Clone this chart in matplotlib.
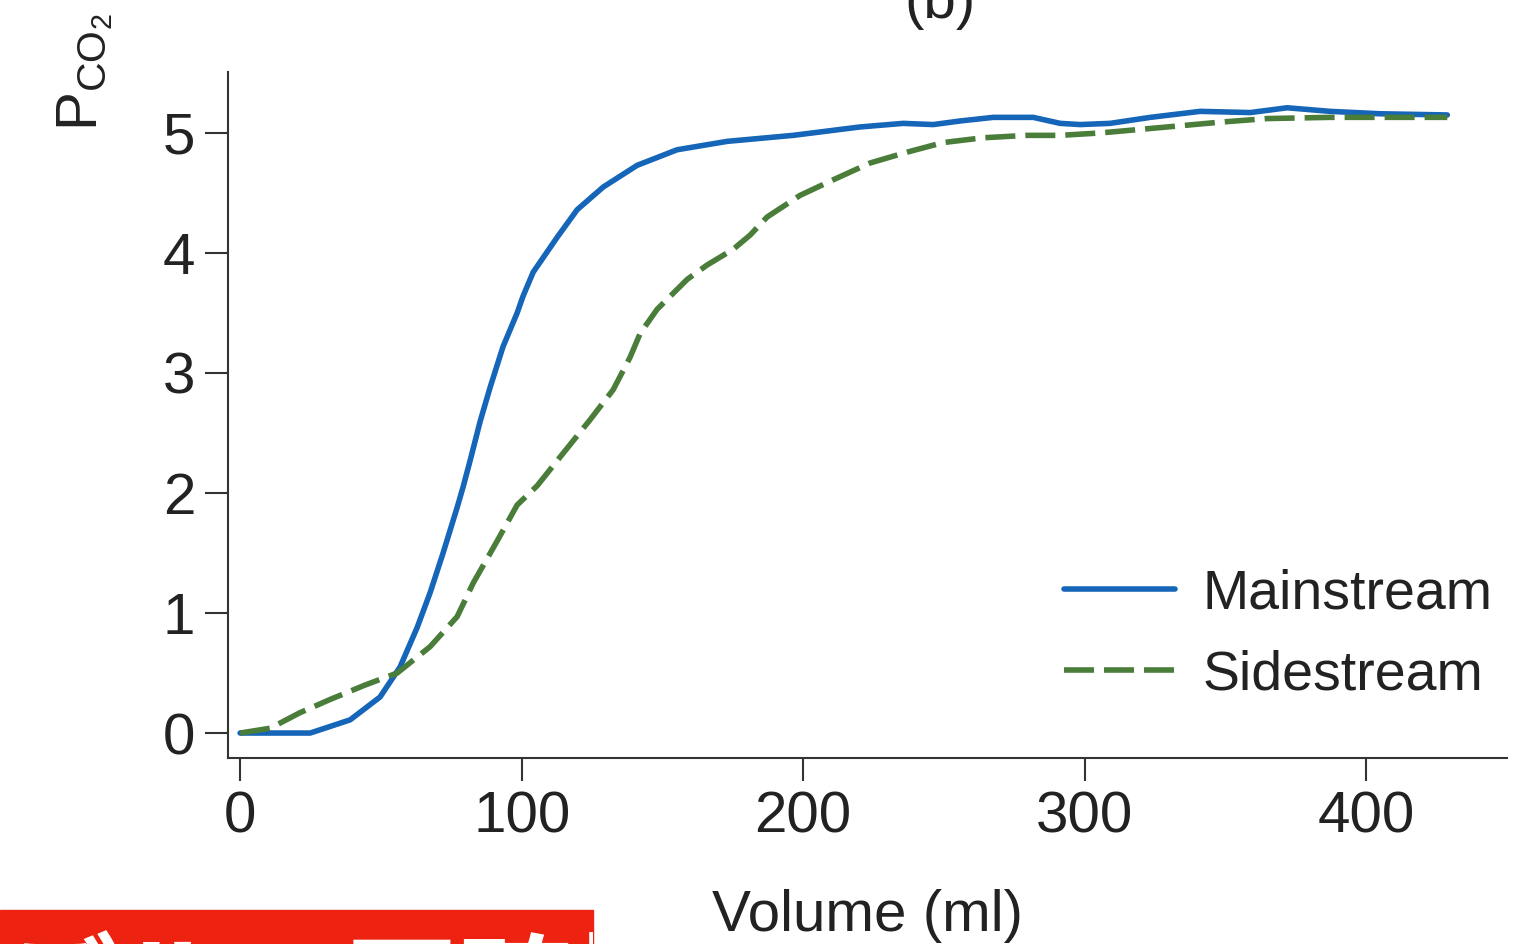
import matplotlib.pyplot as plt
from matplotlib.patches import Rectangle

plt.rcParams['font.family'] = ['Liberation Sans', 'DejaVu Sans']
plt.rcParams['mathtext.fontset'] = 'custom'
plt.rcParams['mathtext.rm'] = 'Liberation Sans'
plt.rcParams['mathtext.it'] = 'Liberation Sans'

# values (volume in ml, PCO2 in kPa)
main_vol = [0, 24.9, 39.1, 49.7, 56.8, 62.9, 67.5, 72.1, 77.1, 79.2, 81.7, 85.3, 88.8,
            93.4, 98.4, 100.5, 104.1, 112.6, 119.7, 129.0, 141.0, 155.2, 173.0, 196.4,
            220.2, 235.5, 246.2, 255.8, 267.5, 281.7, 291.3, 298.4, 309, 323.3, 341,
            358.8, 371.9, 387.2, 405, 428.8]
main_pco2 = [0, 0, 0.11, 0.30, 0.55, 0.88, 1.17, 1.50, 1.88, 2.05, 2.27, 2.6, 2.88,
             3.22, 3.5, 3.64, 3.84, 4.13, 4.36, 4.55, 4.73, 4.86, 4.93, 4.98,
             5.05, 5.08, 5.07, 5.1, 5.13, 5.13, 5.08, 5.07, 5.08, 5.13, 5.18,
             5.17, 5.21, 5.18, 5.16, 5.15]

side_vol = [0, 10.7, 21.3, 32, 44.4, 55.8, 67.5, 77.1, 82.8, 91.3, 98.4, 105.5, 114.7,
            124.3, 132.5, 138.5, 142.1, 148.1, 158.8, 165.9, 175.1, 181.2, 187.2, 198.9,
            210.7, 223.8, 236.9, 249.7, 263.9, 279.6, 291.3, 305.5, 329.3, 348.1, 364.8,
            387.2, 428.8]
side_pco2 = [0, 0.04, 0.17, 0.28, 0.4, 0.5, 0.72, 0.97, 1.25, 1.6, 1.9, 2.06, 2.33,
             2.61, 2.86, 3.13, 3.33, 3.53, 3.78, 3.9, 4.03, 4.15, 4.3, 4.48,
             4.61, 4.75, 4.84, 4.92, 4.96, 4.98, 4.98, 5.0, 5.05, 5.09, 5.12,
             5.13, 5.13]

x_ticks = [0, 100, 200, 300, 400]
y_ticks = [0, 1, 2, 3, 4, 5]

W, H = 1516, 944
fig = plt.figure(figsize=(W / 100, H / 100), dpi=100)
ax = fig.add_axes([228 / W, 1 - 758 / H, (1507 - 228) / W, (758 - 72) / H])

blue = '#1565b8'
green = '#4a7d3a'
ink = '#222222'

ax.plot(main_vol, main_pco2, color=blue, lw=4, label='Mainstream',
        solid_capstyle='round', solid_joinstyle='round')
ax.plot(side_vol, side_pco2, color=green, lw=4, dashes=(5.4, 1.8), label='Sidestream')

ax.set_xlim(-4.3, 450)
ax.set_ylim(-0.208, 5.508)
ax.set_xticks(x_ticks)
ax.set_yticks(y_ticks)
for s in ['top', 'right']:
    ax.spines[s].set_visible(False)
for s in ['left', 'bottom']:
    ax.spines[s].set_linewidth(1.5)
    ax.spines[s].set_color('#333333')
ax.tick_params(length=16.5, width=1.5, color='#333333', labelsize=42, labelcolor=ink, pad=7)

ax.set_xlabel('Volume (ml)', fontsize=42, color=ink, labelpad=32)

leg = ax.legend(loc='upper left', bbox_to_anchor=(1036 / W, 1 - 541 / H),
                bbox_transform=fig.transFigure, frameon=False, fontsize=40,
                handlelength=2.0, handletextpad=0.49, labelspacing=0.52, borderpad=0)
for t in leg.get_texts():
    t.set_color(ink)

fig.text(84 / W, 1 - 131 / H, r'$\mathrm{P_{CO_2}}$ (kPa)', rotation=90, ha='center',
         va='bottom', fontsize=42, color=ink)
fig.text(940 / W, 1 - 18 / H, '(b)', ha='center', va='baseline', fontsize=42, color=ink)

box = Rectangle((0, 0), 593 / W, 34 / H, transform=fig.transFigure, color='#ee2211',
                zorder=5)
fig.patches.append(box)
jp = fig.text(-110 / W, -86 / H, 'モデルの正確性', ha='left', va='baseline', fontsize=82,
              color='white', weight='bold', zorder=6,
              family=['Noto Sans CJK JP', 'DejaVu Sans'])
jp.set_clip_path(box)

fig.savefig('out.png', dpi=100)
